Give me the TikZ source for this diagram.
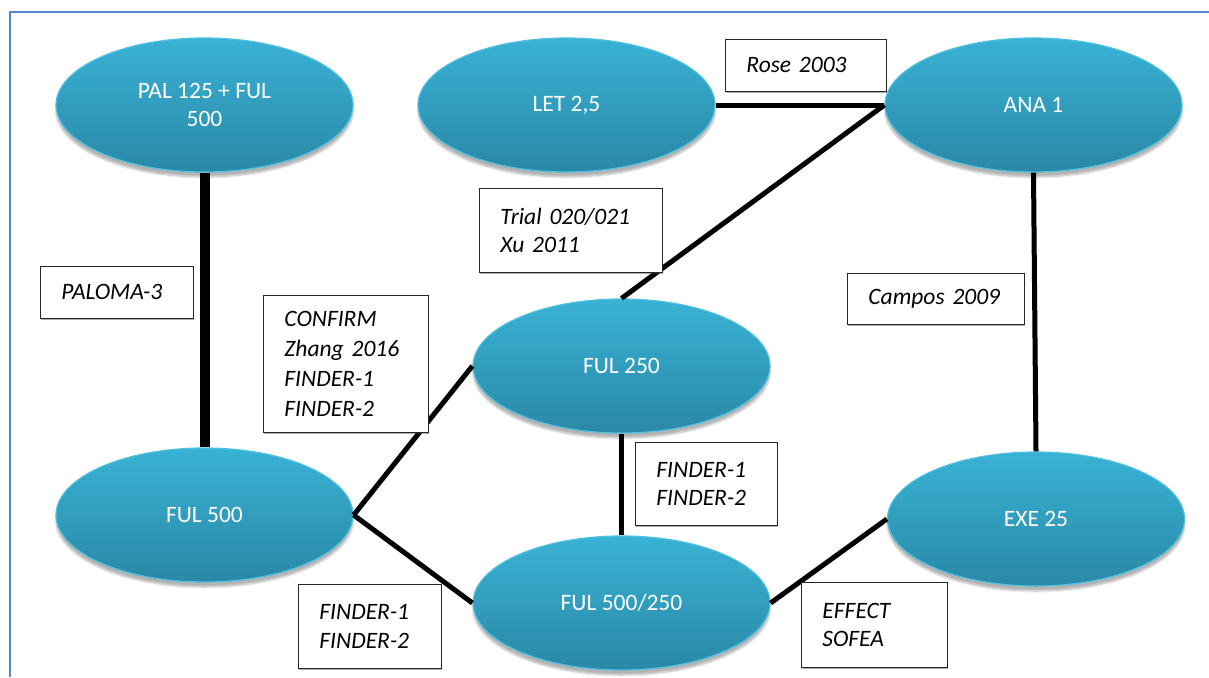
\documentclass[tikz,border=0pt]{standalone}
\usepackage{fontspec}
\setmainfont{Carlito}
\usetikzlibrary{shapes.geometric,shadows,shadows.blur}

\definecolor{ovaltop}{RGB}{57,178,213}
\definecolor{ovalbot}{RGB}{42,136,166}
\definecolor{ovalrim}{RGB}{80,192,224}
\definecolor{framecol}{RGB}{84,135,202}

\begin{document}
\begin{tikzpicture}[x=1pt,y=-1pt,
  oval/.style={ellipse, minimum width=297pt, minimum height=134pt, inner sep=0pt,
    top color=ovaltop, bottom color=ovalbot, draw=ovalrim, line width=1.2pt,
    text=white, align=center, font=\fontsize{23.5}{28}\selectfont,
    blur shadow={shadow xshift=0pt, shadow yshift=-5pt, shadow blur steps=8, shadow opacity=30}},
  note/.style={draw=black!85, line width=0.9pt, fill=white, align=left,
    inner xsep=21pt, inner ysep=0pt, anchor=north west,
    font=\fontsize{23.5}{28.5}\selectfont\itshape,
    drop shadow={shadow xshift=0.6pt, shadow yshift=-1.6pt, opacity=0.45, fill=black!70}},
  conn/.style={line width=5pt},
  heavyconn/.style={line width=10pt}
]
\useasboundingbox (0,0) rectangle (1209,677);

% outer frame (left and top edges only)
\draw[framecol, line width=1.5pt] (10,677) -- (10,12) -- (1209,12);

% treatment nodes
\node[oval] (pal)  at (204.5,105) {PAL 125 + FUL\\500};
\node[oval] (let)  at (566.5,105) {LET 2,5};
\node[oval] (ana)  at (1033.5,105) {ANA 1};
\node[oval] (f250) at (621.5,366) {FUL 250};
\node[oval] (f500) at (204.5,515) {FUL 500};
\node[oval] (mix)  at (621.5,603) {FUL 500/250};
\node[oval] (exe)  at (1036,519) {EXE 25};

% comparisons
\draw[heavyconn] (pal.south) -- (f500.north);
\draw[conn] (let.east) -- (ana.west);
\draw[conn] (ana.west) -- (f250.north);
\draw[conn] (ana.south) -- (exe.north);
\draw[conn] (f500.east) -- (f250.west);
\draw[conn] (f500.east) -- (mix.west);
\draw[conn] (f250.south) -- (mix.north);
\draw[conn] (mix.east) -- (exe.west);

% trial labels
\node[note, minimum width=161pt, minimum height=52pt, text width=119pt] (rose) at (725,39) {Rose~2003};
\node[note, minimum width=153pt, minimum height=52pt, text width=111pt] (paloma) at (40,266) {PALOMA-3};
\node[note, minimum width=183pt, minimum height=84pt, text width=141pt] (trial) at (479,188) {Trial~020/021\\Xu~2011};
\node[note, minimum width=165pt, minimum height=137pt, text width=123pt,
  font=\fontsize{23.5}{30}\selectfont\itshape] (confirm) at (263,295) {CONFIRM\\Zhang~2016\\FINDER-1\\FINDER-2};
\node[note, minimum width=177pt, minimum height=51pt, text width=135pt] (campos) at (847,273) {Campos~2009};
\node[note, minimum width=142pt, minimum height=83pt, text width=100pt] (findmid) at (635,442) {FINDER-1\\FINDER-2};
\node[note, minimum width=143pt, minimum height=84pt, text width=101pt] (findlow) at (298,584) {FINDER-1\\FINDER-2};
\node[note, minimum width=146pt, minimum height=85pt, text width=104pt] (effect) at (801,582) {EFFECT\\SOFEA};
\end{tikzpicture}
\end{document}
